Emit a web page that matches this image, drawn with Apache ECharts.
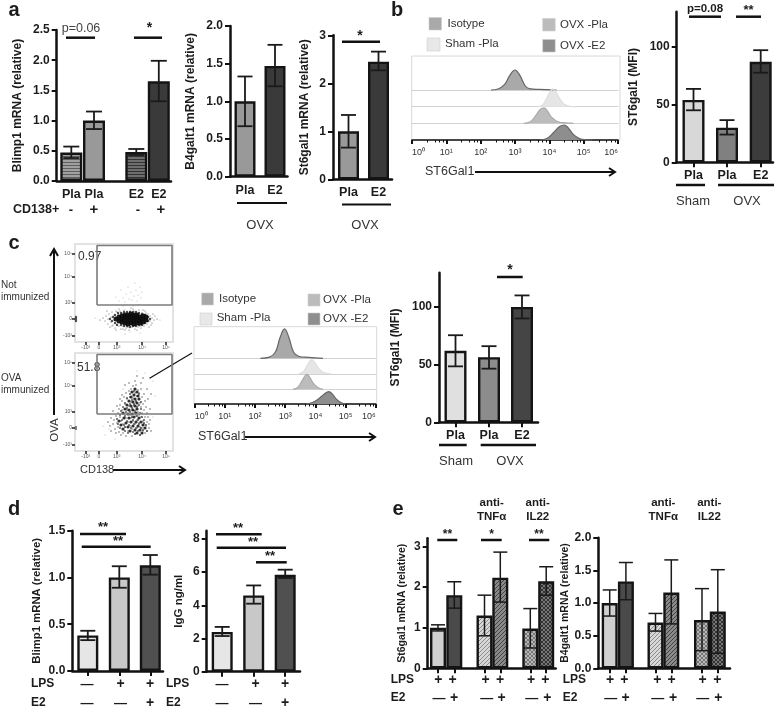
<!DOCTYPE html>
<html><head><meta charset="utf-8">
<style>html,body{margin:0;padding:0;background:#fff}#c{width:778px;height:709px}</style>
<script src="https://cdn.jsdelivr.net/npm/echarts@6/dist/echarts.min.js"></script>
</head><body><div id="c"></div>
<script>
// ---------- DATA ----------
const a1Cats=['Pla','Pla','E2','E2'];
const a1Vals=[0.47,1.0,0.48,1.65], a1Low=[0.38,0.86,0.43,1.32], a1High=[0.57,1.15,0.53,1.99];
const a1Ticks=['0.0','0.5','1.0','1.5','2.0','2.5'];
const a2Cats=['Pla','E2'];
const a2Vals=[1.0,1.47], a2Low=[0.67,1.2], a2High=[1.33,1.75];
const a2Ticks=['0.0','0.5','1.0','1.5','2.0'];
const a3Cats=['Pla','E2'];
const a3Vals=[1.0,2.45], a3Low=[0.66,2.27], a3High=[1.34,2.66];
const a3Ticks=['0','1','2','3'];
const bCats=['Pla','Pla','E2'];
const bVals=[54,30,87], bLow=[45,24,77.5], bHigh=[63.5,36.5,97];
const mfiTicks=['0','50','100'];
const cCats=['Pla','Pla','E2'];
const cVals=[62,56.5,100], cLow=[48.5,46.5,90], cHigh=[75.5,66,110];
const d1Vals=[0.38,1.0,1.13], d1Low=[0.33,0.89,1.03], d1High=[0.43,1.12,1.24];
const d1Ticks=['0.0','0.5','1.0','1.5'];
const d2Vals=[2.4,4.6,5.85], d2Low=[2.15,4.1,5.65], d2High=[2.7,5.2,6.15];
const d2Ticks=['0','2','4','6','8'];
const e1Vals=[1.0,1.8,1.3,2.23,0.98,2.14], e1Low=[0.92,1.48,0.8,1.63,0.5,1.8], e1High=[1.07,2.13,1.8,2.86,1.47,2.5];
const e1Ticks=['0','1','2','3'];
const e2Vals=[1.0,1.33,0.7,1.16,0.74,0.87], e2Low=[0.8,1.05,0.57,0.68,0.27,0.23], e2High=[1.2,1.62,0.84,1.66,1.22,1.51];
const e2Ticks=['0.0','0.5','1.0','1.5','2.0'];

// histograms: [fluorescence, relative height]
const histBIso=[[200,0],[320,.05],[500,.28],[700,.72],[1000,1],[1400,.72],[2000,.2],[2800,.06],[5000,.03],[16000,0]];
const histBSham=[[4500,0],[6500,.1],[8500,.45],[11000,.82],[12600,.88],[15000,.78],[20000,.4],[27000,.12],[40000,.02],[60000,0]];
const histBPla=[[1800,0],[2800,.08],[4000,.38],[5500,.7],[7000,.77],[8500,.65],[12000,.28],[18000,.08],[30000,.02],[50000,0]];
const histBE2=[[5500,0],[9000,.1],[14000,.42],[20000,.68],[27000,.75],[35000,.62],[50000,.28],[75000,.07],[120000,.01],[180000,0]];
const histCIso=[[150,0],[300,.04],[480,.22],[680,.7],[950,.98],[1300,.72],[1900,.2],[2800,.07],[6000,.03],[18000,0]];
const histCSham=[[2800,0],[4000,.08],[5500,.3],[6800,.45],[7800,.47],[9500,.38],[13000,.18],[18000,.06],[26000,.01],[35000,0]];
const histCPla=[[1800,0],[2600,.06],[3600,.28],[4600,.46],[5300,.5],[6300,.42],[9000,.17],[13000,.04],[18000,0]];
const histCE2=[[5000,0],[8000,.05],[12000,.15],[19000,.32],[28000,.41],[36000,.34],[52000,.14],[75000,.03],[100000,0]];
const histTicks=['10⁰','10¹','10²','10³','10⁴','10⁵','10⁶'];

// flow cytometry dots: [CD138 display units, OVA display units]
const flowTicksX=[10.7,24,41.7,67,91], flowTicksY=[6.5,23,39,65,88];
const flowTickNames=['-10³','0','10³','10⁴','10⁵'];
const gateX=[22,97,97,22,22], gateY=[37,37,96.5,96.5,37];
const flowTopCore=[[41,23],[44,21],[44,25],[47,20],[47,23],[47,26],[50,19],[50,22],[50,25],[50,27],[53,18],[53,21],[53,24],[53,27],[56,19],[56,22],[56,25],[56,28],[59,18],[59,21],[59,24],[59,27],[62,19],[62,22],[62,25],[62,27],[65,19],[65,22],[65,25],[68,20],[68,23],[68,26],[71,22],[71,25]];
const flowTopMid=[[37,21],[38,25],[40,19],[40,27],[42,17],[43,29],[46,17],[46,29],[49,16],[49,30],[52,16],[52,30],[55,15],[55,30],[58,16],[58,30],[61,16],[61,30],[64,17],[64,29],[67,17],[67,28],[70,19],[70,27],[73,21],[73,25],[75,23],[35,23],[1,21],[1,23],[1,25]];
const flowTopFringe=[[28,24],[30,21],[31,26],[33,18],[33,23],[34,28],[35,15],[36,20],[36,25],[37,30],[38,17],[39,22],[39,27],[40,14],[41,31],[42,18],[43,28],[44,16],[45,31],[46,13],[47,29],[48,16],[49,32],[51,14],[52,30],[54,12],[55,31],[57,15],[58,33],[60,13],[61,30],[63,15],[64,32],[66,14],[67,29],[69,16],[70,31],[72,18],[73,28],[74,15],[75,21],[75,26],[77,19],[77,24],[79,22],[80,26],[82,23],[25,22],[37,16],[42,30],[48,13],[53,15],[59,31],[65,16],[71,29],[76,17],[44,33],[50,12],[56,34],[62,12],[68,32],[78,28],[32,31],[41,12]];
const flowTopSparse=[[41,45],[44,41],[46,52],[48,44],[50,40],[51,48],[53,55],[54,43],[56,50],[57,42],[59,46],[60,59],[61,52],[62,41],[63,47],[65,55],[66,44],[67,50],[52,37],[58,36],[48,36],[63,37],[20,24],[85,22],[50,8],[65,9],[55,10]];
const flowBotCore=[[60,62],[57,59],[62,59],[59,56],[63,55],[56,54],[60,52],[64,52],[54,50],[58,49],[62,48],[52,46],[56,45],[60,45],[50,42],[54,41],[58,41],[62,42],[48,38],[53,37],[57,37],[61,38],[44,30],[49,33],[54,33],[59,34],[64,33],[46,26],[51,28],[56,29],[61,29],[66,29],[48,22],[53,24],[58,25],[63,25],[68,26],[55,20],[60,21],[65,21],[70,23],[62,18],[67,18]];
const flowBotMid=[[55,57],[59,60],[64,57],[52,53],[57,51],[66,49],[61,50],[50,48],[55,47],[59,47],[64,46],[48,44],[52,43],[57,43],[62,44],[66,42],[46,40],[51,39],[55,39],[60,40],[65,38],[45,36],[50,35],[57,34],[62,35],[67,34],[42,32],[47,31],[52,30],[58,31],[63,31],[69,31],[43,27],[49,26],[54,26],[59,27],[64,27],[69,28],[45,23],[50,24],[56,23],[61,23],[66,23],[71,26],[50,20],[53,18],[58,19],[63,20],[68,21],[72,20],[60,17],[65,16],[1,22],[1,24]];
const flowBotFringe=[[38,27],[39,31],[40,22],[41,35],[41,18],[42,28],[43,38],[43,24],[44,42],[44,19],[45,34],[45,46],[46,16],[46,30],[47,50],[47,41],[48,27],[48,18],[49,54],[49,37],[50,47],[50,24],[51,58],[51,33],[51,15],[52,41],[52,52],[53,29],[53,20],[54,60],[54,45],[55,36],[55,25],[55,54],[56,62],[56,49],[56,33],[57,41],[57,22],[57,15],[58,65],[58,53],[58,30],[59,46],[59,38],[60,58],[60,27],[60,17],[61,66],[61,49],[61,35],[62,55],[62,31],[62,23],[63,61],[63,45],[63,39],[64,58],[64,36],[64,28],[65,48],[65,24],[65,16],[66,62],[66,44],[66,34],[67,54],[67,38],[67,23],[68,47],[68,30],[68,20],[69,57],[69,41],[69,27],[70,50],[70,34],[70,18],[71,44],[71,25],[72,38],[72,29],[72,20],[73,52],[73,34],[74,27],[74,23],[75,31],[75,42],[76,20],[76,57],[35,25],[36,33],[36,20],[33,29],[50,66],[54,68],[60,70],[66,68],[72,62],[75,73],[68,73],[62,75],[42,45],[45,52],[47,56],[38,40]];
const flowBotSparse=[[40,12],[30,16],[78,70],[70,78],[62,80],[48,62],[80,55],[34,22],[78,34],[28,25]];

// ---------- HELPERS ----------
const FONT='"Liberation Sans",Arial,sans-serif';
const INK='#1c1c1c';
function pat(kind,bg,fg){
  const s=kind==='h'?3:4, cv=document.createElement('canvas'); cv.width=s;cv.height=s;
  const g=cv.getContext('2d'); g.fillStyle=bg;g.fillRect(0,0,s,s); g.strokeStyle=fg;g.lineWidth=1;
  g.beginPath();
  if(kind==='h'){g.moveTo(0,.5);g.lineTo(s,.5);}
  else{g.moveTo(0,s);g.lineTo(s,0);g.moveTo(-1,1);g.lineTo(1,-1);g.moveTo(s-1,s+1);g.lineTo(s+1,s-1);
    if(kind==='x'){g.moveTo(0,0);g.lineTo(s,s);}}
  g.stroke();
  return {image:cv,repeat:'repeat'};
}
const grids=[],xAxes=[],yAxes=[],series=[],gfx=[];
function T(x,y,text,o){o=o||{};
  gfx.push({type:'text',x,y,rotation:o.rot||0,silent:true,style:{text,font:`${o.b?'bold ':''}${o.s||13}px ${FONT}`,fill:o.c||INK,textAlign:o.a||'center',textVerticalAlign:'middle'}});}
function L(x1,y1,x2,y2,w,c){gfx.push({type:'line',silent:true,shape:{x1,y1,x2,y2},style:{stroke:c||'#111',lineWidth:w||2.5}});}
function Arrow(x1,y,x2){L(x1,y,x2,y,2);gfx.push({type:'polyline',silent:true,shape:{points:[[x2-6,y-4],[x2,y],[x2-6,y+4]]},style:{stroke:'#111',lineWidth:2,fill:null}});}
function Swatch(x,y,w,h,c){gfx.push({type:'rect',silent:true,shape:{x,y,width:w,height:h},style:{fill:c,stroke:'#ccc',lineWidth:.6}});}

function barPanel(p){
  const i=grids.length, W=p.right-p.left, ticks=p.ticks.map(Number);
  grids.push({left:p.left,top:p.top,width:W,height:p.y0-p.top});
  const cv=p.pos;
  xAxes.push({type:'value',gridIndex:i,min:0,max:W,
    axisLine:{show:true,lineStyle:{color:'#111',width:2.5}},
    axisTick:{show:!!p.xTick,customValues:cv,length:5,lineStyle:{color:'#111',width:2}},
    splitLine:{show:false},
    axisLabel:{show:!!p.cats,customValues:cv,margin:p.xMargin||7,
      formatter:v=>p.cats?p.cats[cv.indexOf(v)]:'',color:INK,fontFamily:FONT,fontWeight:'bold',fontSize:12.5}});
  yAxes.push({type:'value',gridIndex:i,min:0,max:p.max,
    name:p.title,nameLocation:'middle',nameGap:p.gap,nameRotate:90,nameMoveOverlap:false,
    nameTextStyle:{fontFamily:FONT,fontWeight:'bold',fontSize:p.titleSize||12,color:INK},
    axisLine:{show:true,lineStyle:{color:'#111',width:2.5}},
    axisTick:{show:true,customValues:ticks,length:5,lineStyle:{color:'#111',width:2}},
    splitLine:{show:false},
    axisLabel:{customValues:ticks,margin:7,formatter:v=>p.ticks[ticks.indexOf(v)],color:INK,fontFamily:FONT,fontWeight:'bold',fontSize:12}});
  series.push({type:'bar',xAxisIndex:i,yAxisIndex:i,barWidth:p.barW,barGap:'-100%',
    data:p.vals.map((v,k)=>({value:[cv[k],v],itemStyle:{color:p.colors[k],borderColor:'#141414',borderWidth:2.4}}))});
  const cap=p.cap||7.5;
  series.push({type:'custom',xAxisIndex:i,yAxisIndex:i,z:5,encode:{x:0,y:[1,2]},
    data:p.vals.map((v,k)=>[cv[k],p.low[k],p.high[k]]),
    renderItem:(ps,api)=>{
      const a=api.coord([api.value(0),api.value(1)]),b=api.coord([api.value(0),api.value(2)]);
      const st={stroke:'#1a1a1a',lineWidth:p.errW||1.8};
      return {type:'group',children:[
        {type:'line',shape:{x1:a[0],y1:a[1],x2:b[0],y2:b[1]},style:st},
        {type:'line',shape:{x1:a[0]-cap,y1:a[1],x2:a[0]+cap,y2:a[1]},style:st},
        {type:'line',shape:{x1:b[0]-cap,y1:b[1],x2:b[0]+cap,y2:b[1]},style:st}]};
    }});
}
function histRow(left,right,base,h,data,fill,line,last){
  const i=grids.length;
  grids.push({left,top:base-h,width:right-left,height:h});
  xAxes.push({type:'log',logBase:10,gridIndex:i,min:1,max:1e6,
    axisLine:{show:true,onZero:false,lineStyle:{color:last?'#111':'#d2d2d2',width:last?1.5:1.2}},
    axisTick:{show:!!last,length:4,lineStyle:{color:'#111',width:2}},
    minorTick:{show:!!last,splitNumber:5,length:2.5,lineStyle:{color:'#111',width:1}},
    splitLine:{show:false},minorSplitLine:{show:false},
    axisLabel:{show:!!last,margin:8,fontSize:9,fontFamily:FONT,color:'#333',alignMinLabel:'left',alignMaxLabel:'right',
      formatter:v=>histTicks[Math.round(Math.log10(v))]}});
  yAxes.push({type:'value',gridIndex:i,min:0,max:1,show:false});
  series.push({type:'line',xAxisIndex:i,yAxisIndex:i,data,smooth:.4,showSymbol:false,silent:true,clip:false,
    lineStyle:{color:line,width:1.2},areaStyle:{color:fill,opacity:1}});
}
function flowPanel(top,layers){
  const i=grids.length;
  grids.push({left:75,top,width:98,height:98,show:true,borderColor:'#e2e2e2',borderWidth:2,backgroundColor:'#fff'});
  xAxes.push({type:'value',gridIndex:i,min:0,max:98,axisLine:{show:false},splitLine:{show:false},
    axisTick:{show:true,customValues:flowTicksX,length:3,lineStyle:{color:'#222',width:1.5}},
    axisLabel:{customValues:flowTicksX,margin:3,fontSize:5,color:'#555',fontFamily:FONT,formatter:v=>flowTickNames[flowTicksX.indexOf(v)]}});
  yAxes.push({type:'value',gridIndex:i,min:0,max:98,axisLine:{show:false},splitLine:{show:false},
    axisTick:{show:true,customValues:flowTicksY,length:3,lineStyle:{color:'#222',width:1.5}},
    axisLabel:{customValues:flowTicksY,margin:3,fontSize:5,color:'#555',fontFamily:FONT,formatter:v=>flowTickNames[flowTicksY.indexOf(v)]}});
  layers.forEach(l=>series.push({type:'scatter',xAxisIndex:i,yAxisIndex:i,data:l[0],symbolSize:l[1],silent:true,itemStyle:{color:l[2],opacity:l[3]}}));
  series.push({type:'line',xAxisIndex:i,yAxisIndex:i,data:gateX.map((x,k)=>[x,gateY[k]]),showSymbol:false,silent:true,lineStyle:{color:'#7c7c7c',width:1.6}});
}

// ---------- PANEL a ----------
barPanel({left:56.7,right:171,top:30,y0:181,max:2.5,ticks:a1Ticks,pos:[14.6,37.3,79.6,102.1],barW:22,cats:a1Cats,vals:a1Vals,low:a1Low,high:a1High,
  colors:[pat('h','#a0a0a0','#5e5e5e'),'#999999',pat('h','#6e6e6e','#333'),'#3a3a3a'],title:'Blimp1 mRNA (relative)',gap:33.5,cap:8});
barPanel({left:230,right:287.5,top:26,y0:176.7,max:2,ticks:a2Ticks,pos:[15,45],barW:21,cats:a2Cats,vals:a2Vals,low:a2Low,high:a2High,colors:['#999999','#3a3a3a'],title:'B4galt1 mRNA (relative)',gap:33.5,cap:7.5});
barPanel({left:333,right:392,top:35.3,y0:179.3,max:3,ticks:a3Ticks,pos:[15.5,45.5],barW:21,cats:a3Cats,vals:a3Vals,low:a3Low,high:a3High,colors:['#999999','#3a3a3a'],title:'St6gal1 mRNA (relative)',gap:22,cap:7.5});
T(14,10,'a',{b:1,s:20});
L(66,37.7,95,37.7);T(81,29,'p=0.06',{s:12.5,c:'#444'});
L(134,37.7,162,37.7);T(149.5,28,'*',{b:1,s:14});
L(342,41.7,380,41.7);T(360,36,'*',{b:1,s:14});
T(13,210,'CD138+',{b:1,s:12.5,a:'left'});
T(71,210,'-',{b:1,s:13});T(94,210,'+',{b:1,s:15});T(138,210,'-',{b:1,s:13});T(161,210,'+',{b:1,s:15});
L(237,203,287,203,2);T(260,225,'OVX',{s:13,c:'#333'});
L(342,204.5,391,204.5,2);T(365,225,'OVX',{s:13,c:'#333'});

// ---------- PANEL b ----------
T(391,10,'b',{b:1,s:20,a:'left'});
Swatch(429,17.5,12.5,12.5,'#a9a9a9');T(447.5,24,'Isotype',{s:11.5,a:'left',c:'#333'});
Swatch(427,38,13,13,'#e8e8e8');T(445,44,'Sham -Pla',{s:11.5,a:'left',c:'#333'});
Swatch(542.7,18.5,12.5,12.5,'#bcbcbc');T(560,25,'OVX -Pla',{s:11.5,a:'left',c:'#333'});
Swatch(542.7,39.5,12.5,12.5,'#8e8e8e');T(560,45.5,'OVX -E2',{s:11.5,a:'left',c:'#333'});
gfx.push({type:'rect',silent:true,shape:{x:411.7,y:56,width:208.3,height:84},style:{fill:'none',stroke:'#d8d8d8',lineWidth:1}});
histRow(412,618,90,20,histBIso,'#a9a9a9','#666');
histRow(412,618,106.7,20,histBSham,'#e6e6e6','#ddd');
histRow(412,618,123.3,20,histBPla,'#bcbcbc','#aaa');
histRow(412,618,140,20,histBE2,'#8e8e8e','#666',true);
T(425,172,'ST6Gal1',{s:12.5,a:'left',c:'#333'});Arrow(475,172,615);
barPanel({left:676.7,right:773,top:11.7,y0:162.3,max:130.3,ticks:mfiTicks,pos:[16.8,50.3,84],barW:22,xTick:1,cats:bCats,vals:bVals,low:bLow,high:bHigh,colors:['#d8d8d8','#808080','#3c3c3c'],title:'ST6gal1 (MFI)',gap:36.7,xMargin:7});
L(689,16.7,721,16.7);T(705,9,'p=0.08',{b:1,s:11.5});
L(736,16.7,761,16.7);T(748.5,10,'**',{b:1,s:13});
L(676,185,705,185);L(718,185,774,185);
T(693,201,'Sham',{s:13,c:'#333'});T(747,201,'OVX',{s:13,c:'#333'});

// ---------- PANEL c ----------
T(14,243,'c',{b:1,s:20});
flowPanel(244,[[flowTopSparse,1,'#999',.9],[flowTopFringe,1.2,'#333',.8],[flowTopMid,2.4,'#222',.8],[flowTopCore,5,'#0c0c0c',.95]]);
flowPanel(353,[[flowBotSparse,1,'#999',.9],[flowBotFringe,1.3,'#222',.85],[flowBotMid,2,'#333',.8],[flowBotCore,3.2,'#0c0c0c',.85]]);
T(78,257,'0.97',{s:12,a:'left',c:'#333'});T(77,368,'51.8',{s:12,a:'left',c:'#333'});
T(1,285,'Not',{s:10,a:'left',c:'#333'});T(1,297,'immunized',{s:10,a:'left',c:'#333'});
T(1,378,'OVA',{s:10,a:'left',c:'#333'});T(1,390,'immunized',{s:10,a:'left',c:'#333'});
L(54,415,54,250,2);gfx.push({type:'polyline',silent:true,shape:{points:[[50,256],[54,249],[58,256]]},style:{stroke:'#111',lineWidth:2,fill:null}});
T(55,430,'OVA',{s:11.5,rot:Math.PI/2,c:'#333'});
T(80,470,'CD138',{s:11,a:'left',c:'#333'});Arrow(113,470,185);
L(150,378,192,353,1.2);
Swatch(201.7,293,11.7,12,'#a9a9a9');T(219,299,'Isotype',{s:11.5,a:'left',c:'#333'});
Swatch(200,313,12,12,'#e8e8e8');T(216.7,318,'Sham -Pla',{s:11.5,a:'left',c:'#333'});
Swatch(308,294,12,12,'#bcbcbc');T(323,300,'OVX -Pla',{s:11.5,a:'left',c:'#333'});
Swatch(308,313,12,12,'#8e8e8e');T(323,319,'OVX -E2',{s:11.5,a:'left',c:'#333'});
gfx.push({type:'rect',silent:true,shape:{x:194,y:326.7,width:182.7,height:77.3},style:{fill:'none',stroke:'#d8d8d8',lineWidth:1}});
histRow(194.7,375.7,358.3,30,histCIso,'#a9a9a9','#666');
histRow(194.7,375.7,374,30,histCSham,'#e6e6e6','#ddd');
histRow(194.7,375.7,389.3,30,histCPla,'#bcbcbc','#aaa');
histRow(194.7,375.7,404,30,histCE2,'#8e8e8e','#666',true);
T(198,437,'ST6Gal1',{s:12.5,a:'left',c:'#333'});Arrow(245,437,375);
barPanel({left:439,right:538,top:272.7,y0:422.3,max:129.7,ticks:mfiTicks,pos:[16.5,50,83],barW:22,xTick:1,cats:cCats,vals:cVals,low:cLow,high:cHigh,colors:['#e0e0e0','#8c8c8c','#454545'],title:'ST6gal1 (MFI)',gap:37,xMargin:7});
L(497,277,522.7,277);T(510,270,'*',{b:1,s:14});
L(439,445,466.7,445);L(480.7,445,536,445);
T(456,461,'Sham',{s:13,c:'#333'});T(510,461,'OVX',{s:13,c:'#333'});

// ---------- PANEL d ----------
T(14,509,'d',{b:1,s:20});
barPanel({left:72.3,right:163,top:530.7,y0:671,max:1.5,ticks:d1Ticks,pos:[15.5,47,78],barW:21,xTick:1,vals:d1Vals,low:d1Low,high:d1High,colors:['#e6e6e6','#c8c8c8','#505050'],title:'Blimp1 mRNA (relative)',gap:29.6,titleSize:11.3});
barPanel({left:206.7,right:300,top:530.7,y0:671.7,max:8.5,ticks:d2Ticks,pos:[15.5,47,78.5],barW:21,xTick:1,vals:d2Vals,low:d2Low,high:d2High,colors:['#e6e6e6','#c8c8c8','#505050'],title:'IgG ng/ml',gap:21.4,titleSize:11.5});
L(80,534,126,534);T(103,527,'**',{b:1,s:13});
L(81.7,546.7,150.7,546.7);T(118,541,'**',{b:1,s:13});
L(216,534.3,261.7,534.3);T(238,528,'**',{b:1,s:13});
L(216.7,547.7,286,547.7);T(253,542,'**',{b:1,s:13});
L(256,562.3,286.7,562.3);T(270,556,'**',{b:1,s:13});
[[31,87,120.6,150],[166,222,255.6,285]].forEach(r=>{
  T(r[0],684,'LPS',{b:1,s:12,a:'left'});T(r[0],703,'E2',{b:1,s:12,a:'left'});
  T(r[1],684,'—',{b:1,s:13});T(r[2],684,'+',{b:1,s:14});T(r[3],684,'+',{b:1,s:14});
  T(r[1],703,'—',{b:1,s:13});T(r[2],703,'—',{b:1,s:13});T(r[3],703,'+',{b:1,s:14});
});

// ---------- PANEL e ----------
T(398,509,'e',{b:1,s:20});
const eColors=['#d0d0d0','#4a4a4a',pat('d','#d8d8d8','#8a8a8a'),pat('d','#8a8a8a','#444'),pat('x','#b8b8b8','#777'),pat('x','#777','#333')];
barPanel({left:427.7,right:555.7,top:538.3,y0:668.3,max:3.2,ticks:e1Ticks,pos:[10.3,26.6,56.8,72.6,102.6,118.5],barW:16,xTick:1,vals:e1Vals,low:e1Low,high:e1High,colors:eColors,title:'St6gal1 mRNA (relative)',gap:20,titleSize:10.5,cap:7,errW:1.5});
barPanel({left:598.3,right:730,top:537.7,y0:668.3,max:2,ticks:e2Ticks,pos:[11.4,27.6,57.2,73,103.7,119.5],barW:16,xTick:1,vals:e2Vals,low:e2Low,high:e2High,colors:eColors,title:'B4galt1 mRNA (relative)',gap:27.5,titleSize:10.5,cap:7,errW:1.5});
L(437.3,540,457.3,540);T(447.5,535,'**',{b:1,s:12});
L(481,540,501.7,540);T(491.5,535,'*',{b:1,s:12});
L(529,540,549.3,540);T(539,535,'**',{b:1,s:12});
[[491.7,'TNFα'],[537.7,'IL22'],[663.3,'TNFα'],[709.3,'IL22']].forEach(r=>{T(r[0],503,'anti-',{b:1,s:11.5});T(r[0],517,r[1],{b:1,s:11.5});});
[[390.7,[438.3,452.7,485.7,500,531,545.3],[439,454,486.7,501.7,531.7,547.3]],
 [562.7,[610,624.3,657.3,671.7,702.7,717.3],[610.7,625.7,657.7,673,702.7,718.3]]].forEach(r=>{
  T(r[0],680,'LPS',{b:1,s:12,a:'left'});T(r[0],698,'E2',{b:1,s:12,a:'left'});
  r[1].forEach(x=>T(x,680,'+',{b:1,s:14}));
  r[2].forEach((x,k)=>T(x,698,k%2?'+':'—',{b:1,s:k%2?14:13}));
});

const chart=echarts.init(document.getElementById('c'),null,{renderer:'canvas'});
chart.setOption({backgroundColor:'#fff',animation:false,grid:grids,xAxis:xAxes,yAxis:yAxes,series,graphic:{elements:gfx}});
</script></body></html>
